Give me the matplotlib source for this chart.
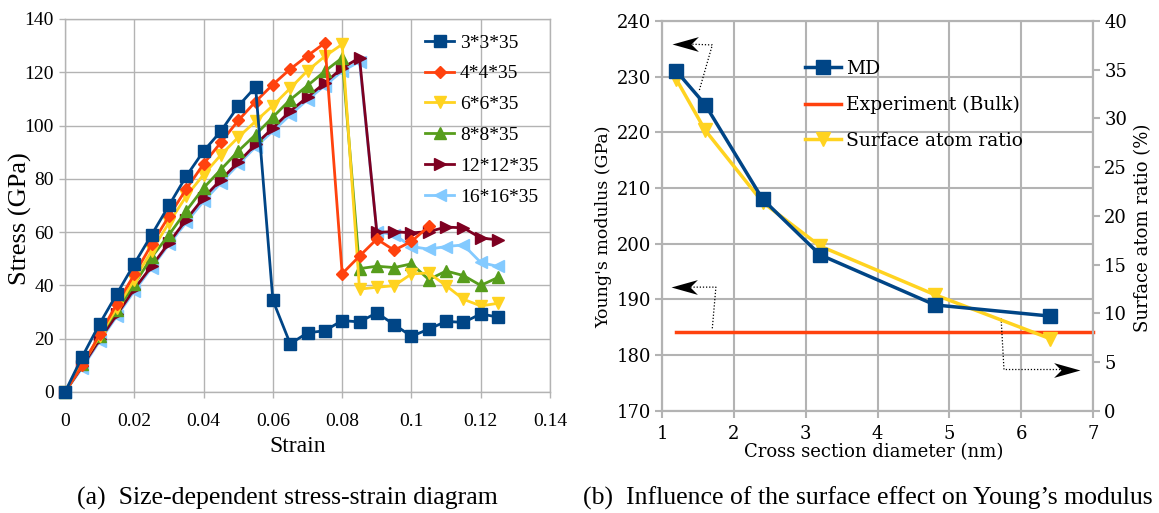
import numpy as np
import matplotlib
matplotlib.use("Agg")
import matplotlib.pyplot as plt
from matplotlib.path import Path

# ---------------- data (a) ----------------
strain = [0.0, 0.005, 0.01, 0.015, 0.02, 0.025, 0.03, 0.035, 0.04, 0.045,
          0.05, 0.055, 0.06, 0.065, 0.07, 0.075, 0.08, 0.085, 0.09, 0.095,
          0.1, 0.105, 0.11, 0.115, 0.12, 0.125]
s3 = [0, 13.3, 25.6, 36.9, 48.1, 59, 70, 81, 90.4, 97.9, 107.3, 114.5, 34.4,
      18.1, 22.2, 23, 26.8, 26.3, 29.7, 25.3, 20.9, 23.6, 26.5, 26.1, 29.3, 28.1]
s4 = [0, 10, 21.6, 33.2, 44.1, 55.4, 66, 76.2, 85.6, 93.7, 101.9, 109, 115.4,
      121.2, 126.2, 131, 44.4, 51, 57.4, 53.2, 56.5, 62.2]
s6 = [0, 10.4, 21, 31.6, 42.2, 52.9, 63.5, 73.5, 81.6, 89, 95.6, 101.6, 107.5,
      114, 120.6, 126, 130.5, 38.6, 39.3, 39.9, 44.3, 44.7, 39.9, 34.8, 32.3, 33.3]
s8 = [0, 10.4, 21, 30.7, 40.4, 50.6, 59, 68, 76.6, 83.5, 90.4, 96.6, 103.2,
      109.7, 115, 120.4, 125.4, 46.3, 47.2, 46.7, 48.1, 42.2, 45.4, 43.7, 40, 43]
s12 = [0, 9.7, 19.7, 29.1, 38.7, 47.2, 56, 64.7, 72.9, 79.7, 86.2, 92.9, 99.1,
       105.4, 110.7, 116, 121.6, 125.4, 59.9, 60.2, 59.7, 60.2, 61.9, 61.6, 57.8, 57.1]
s16 = [0, 9.1, 19.1, 28.5, 37.9, 46.6, 55.4, 63.7, 71.6, 78.5, 85.4, 92, 97.9,
       104, 109.7, 115, 120.4, 124, 60.2, 59, 54.6, 53.6, 54.6, 55.2, 48.6, 47.1]
series_labels = ["3*3*35", "4*4*35", "6*6*35", "8*8*35", "12*12*35", "16*16*35"]
xticks_a = [0, 0.02, 0.04, 0.06, 0.08, 0.1, 0.12, 0.14]
xticklabels_a = ["0", "0.02", "0.04", "0.06", "0.08", "0.1", "0.12", "0.14"]
yticks_a = [0, 20, 40, 60, 80, 100, 120, 140]

# ---------------- data (b) ----------------
diameter = [1.2, 1.6, 2.4, 3.2, 4.8, 6.4]
md_modulus = [231, 225, 208, 198, 189, 187]
exp_x = [1.2, 7.0]
exp_modulus = [184.1, 184.1]
surface_ratio = [34.0, 28.8, 21.4, 16.9, 11.9, 7.4]

colors_a = ["#004586", "#ff420e", "#ffd320", "#579d1c", "#7e0021", "#83caff"]
markers_a = ["s", "D", "v", "^", ">", "<"]
msizes_a = [8, 6, 8.5, 8.5, 8.5, 8.5]
grid_c = "#b3b3b3"

fig = plt.figure(figsize=(11.59, 5.13), dpi=100)

# ================= (a) =================
serif_a = "Liberation Serif"
ax = fig.add_axes([0.0561, 0.2359, 0.4185, 0.7271])
data_a = [s3, s4, s6, s8, s12, s16]
for i, (ys, lab) in enumerate(zip(data_a, series_labels)):
    ax.plot(strain[:len(ys)], ys, color=colors_a[i], marker=markers_a[i],
            ms=msizes_a[i], lw=2.0, label=lab, zorder=10 - i, clip_on=False)
ax.set_xlim(0, 0.14)
ax.set_ylim(0, 140)
ax.set_xticks(xticks_a)
ax.set_xticklabels(xticklabels_a, fontfamily=serif_a, fontsize=14)
ax.set_yticks(yticks_a)
ax.set_yticklabels([str(v) for v in yticks_a], fontfamily=serif_a, fontsize=14)
ax.grid(True, color=grid_c, lw=1.0)
ax.set_axisbelow(True)
for sp in ax.spines.values():
    sp.set_color(grid_c)
    sp.set_linewidth(1.0)
ax.tick_params(color=grid_c, length=4, width=1)
ax.tick_params(axis="x", pad=11)
ax.tick_params(axis="y", pad=4)
ax.set_xlabel("Strain", fontfamily=serif_a, fontsize=17)
ax.xaxis.set_label_coords(0.480, -0.118)
ax.set_ylabel("Stress (GPa)", fontfamily=serif_a, fontsize=19)
ax.yaxis.set_label_coords(-0.068, 0.464)
ax.legend(loc="upper left", bbox_to_anchor=(0.742, 0.96), frameon=False,
          prop={"family": serif_a, "size": 14}, handlelength=1.5,
          handletextpad=0.3, labelspacing=0.68, borderpad=0, borderaxespad=0)

# ================= (b) =================
serif_b = "DejaVu Serif"
bx = fig.add_axes([0.5712, 0.1994, 0.3719, 0.7596])
bx2 = bx.twinx()
bx.set_xlim(1, 7)
bx.set_ylim(170, 240)
bx2.set_ylim(0, 40)
bx.set_xticks([1, 2, 3, 4, 5, 6, 7])
bx.set_yticks([170, 180, 190, 200, 210, 220, 230, 240])
bx2.set_yticks([0, 5, 10, 15, 20, 25, 30, 35, 40])
for a in (bx, bx2):
    for lab in a.get_xticklabels() + a.get_yticklabels():
        lab.set_fontfamily(serif_b)
        lab.set_fontsize(13)
    for sp in a.spines.values():
        sp.set_color(grid_c)
        sp.set_linewidth(1.5)
    a.tick_params(color=grid_c, length=5, width=1.5, pad=3)
bx.tick_params(axis="x", pad=5)
bx.grid(True, color=grid_c, lw=1.5)
bx.set_axisbelow(True)

l_exp, = bx.plot(exp_x, exp_modulus, color="#ff420e", lw=2.5,
                 label="Experiment (Bulk)", zorder=2, clip_on=False)
l_sur, = bx2.plot(diameter, surface_ratio, color="#ffd320", lw=2.5, marker="v",
                  ms=10, label="Surface atom ratio", zorder=3)
l_md, = bx2.plot(diameter, md_modulus, color="#004586", lw=2.5, marker="s",
                 ms=9.5, label="MD", zorder=4, transform=bx.transData)
bx2.set_ylim(0, 40)

bx.set_xlabel("Cross section diameter (nm)", fontfamily=serif_b, fontsize=13)
bx.xaxis.set_label_coords(0.49, -0.084)
bx.set_ylabel("Young's modulus (GPa)", fontfamily=serif_b, fontsize=12.5)
bx.yaxis.set_label_coords(-0.115, 0.472)
bx2.set_ylabel("Surface atom ratio (%)", fontfamily=serif_b, fontsize=13)
bx2.yaxis.set_label_coords(1.095, 0.47)

bx2.legend([l_md, l_exp, l_sur], ["MD", "Experiment (Bulk)", "Surface atom ratio"],
           loc="upper left", bbox_to_anchor=(0.332, 0.90), frameon=False,
           prop={"family": serif_b, "size": 13.5}, handlelength=1.9,
           handletextpad=0.3, labelspacing=0.95, borderpad=0, borderaxespad=0)

# dotted pointer arrows
head_left = Path([(0, 0), (1, 0.28), (0.72, 0), (1, -0.28), (0, 0)],
                 [Path.MOVETO, Path.LINETO, Path.LINETO, Path.LINETO, Path.CLOSEPOLY])
head_right = Path([(0, 0), (-1, 0.28), (-0.72, 0), (-1, -0.28), (0, 0)],
                  [Path.MOVETO, Path.LINETO, Path.LINETO, Path.LINETO, Path.CLOSEPOLY])
arrow1_x = [1.52, 1.70, 1.30]
arrow1_y = [227.6, 235.7, 235.9]
arrow2_x = [1.70, 1.75, 1.30]
arrow2_y = [184.8, 192.2, 192.2]
arrow3_x = [5.72, 5.76, 6.62]
arrow3_y = [186.6, 177.4, 177.4]
for xs, ys, head, tip in ((arrow1_x, arrow1_y, head_left, 1.14),
                          (arrow2_x, arrow2_y, head_left, 1.13),
                          (arrow3_x, arrow3_y, head_right, 6.82)):
    bx.plot(xs, ys, color="black", lw=0.9, ls=(0, (1, 1.5)), zorder=5)
    bx.plot([tip], [ys[-1]], marker=head, ms=38, color="black", mew=0, zorder=6,
            clip_on=False)

# captions
fig.text(0.248, 0.016, "(a)  Size-dependent stress-strain diagram",
         fontfamily=serif_a, fontsize=18.5, ha="center", va="baseline")
fig.text(0.749, 0.016, "(b)  Influence of the surface effect on Young\u2019s modulus",
         fontfamily=serif_a, fontsize=18.5, ha="center", va="baseline")

fig.savefig("out.png", dpi=100)
